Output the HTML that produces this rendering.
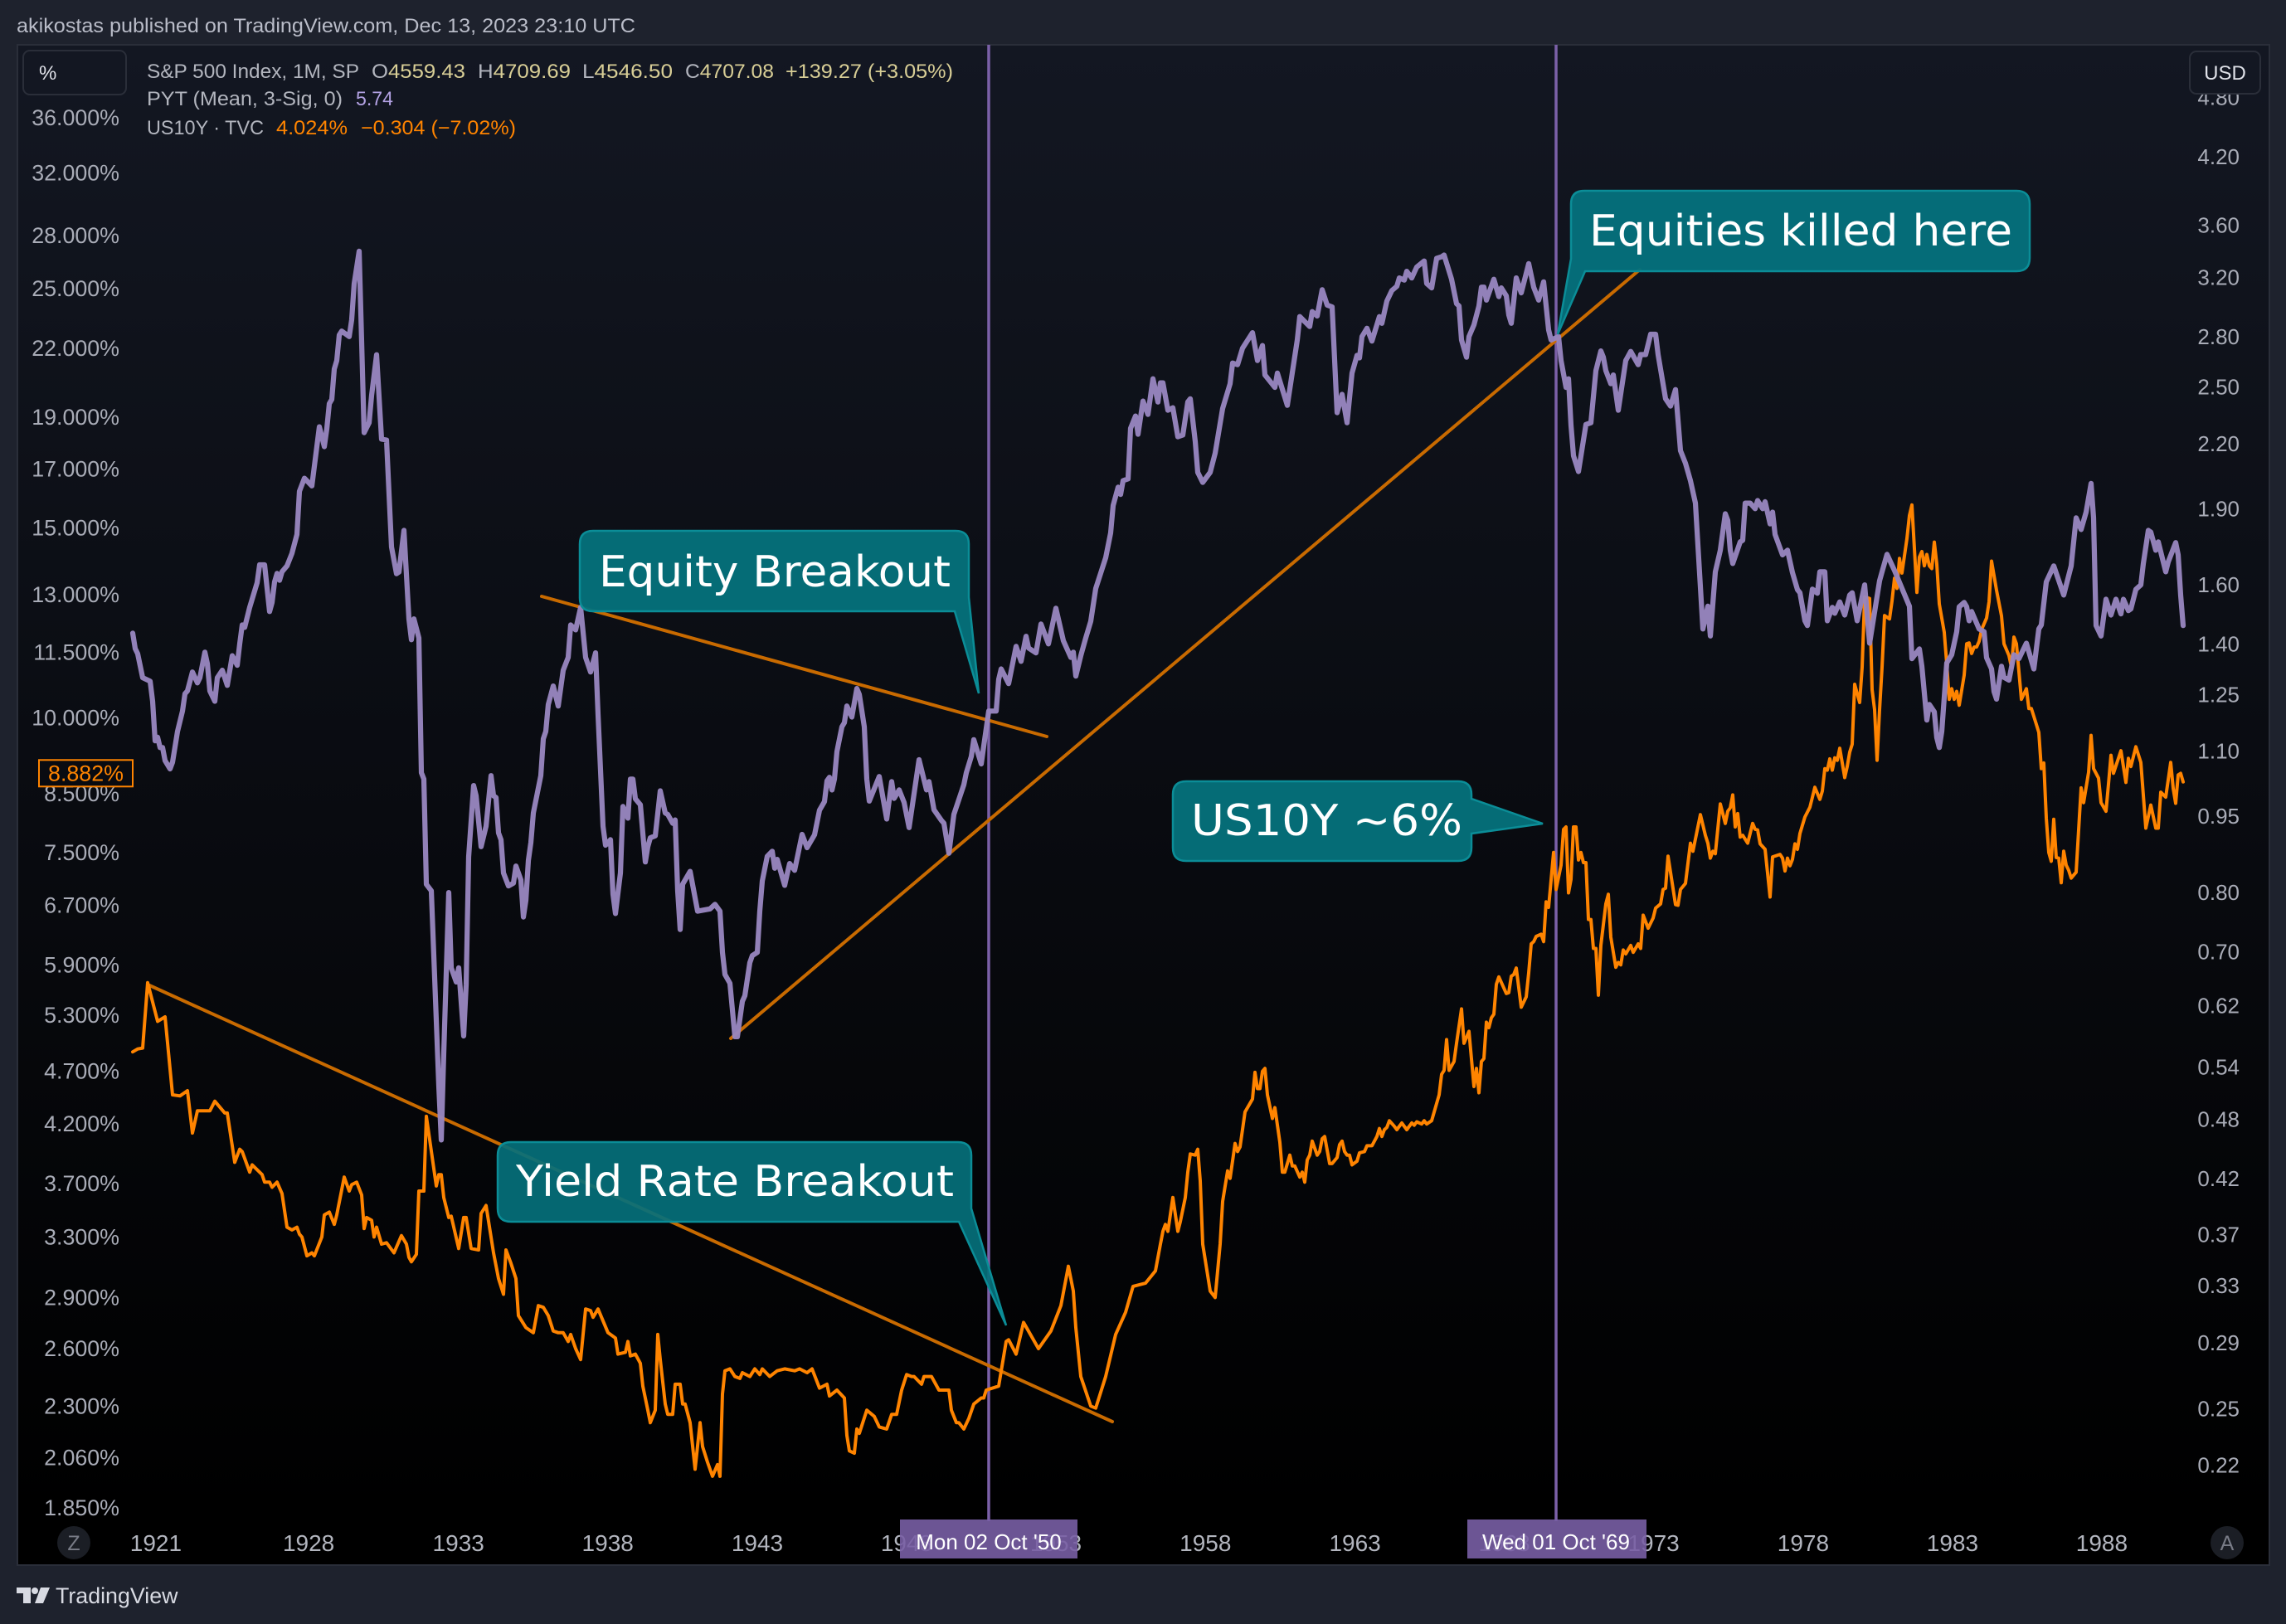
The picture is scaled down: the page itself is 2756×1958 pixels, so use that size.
<!DOCTYPE html>
<html lang="en">
<head>
<meta charset="utf-8">
<title>S&amp;P 500 PYT vs US10Y</title>
<style>
html,body{margin:0;padding:0;background:#1e222d;}
svg{display:block;font-family:"Liberation Sans",sans-serif;}
.callout-text{font-family:"DejaVu Sans","Liberation Sans",sans-serif;}
</style>
</head>
<body>
<svg id="chart" xmlns="http://www.w3.org/2000/svg" width="2756" height="1958" viewBox="0 0 2756 1958">
  <defs>
    <linearGradient id="panelBg" x1="0" y1="0" x2="0" y2="1">
      <stop offset="0" stop-color="#131722"/>
      <stop offset="0.97" stop-color="#000000"/>
    </linearGradient>
  </defs>
  <rect x="0" y="0" width="2756" height="1958" fill="#1e222d"/>
  <text x="20" y="39" font-size="24" fill="#b9bcc8" textLength="746" lengthAdjust="spacingAndGlyphs">akikostas published on TradingView.com, Dec 13, 2023 23:10 UTC</text>
  <rect x="21" y="54" width="2715" height="1833" fill="url(#panelBg)" stroke="#2a2e39" stroke-width="2"/>

  <g id="axisLeft"></g>
  <g id="axisRight"></g>
  <g id="axisTime"></g>

  <line x1="1192" y1="54" x2="1192" y2="1834" stroke="#7b60a8" stroke-width="3.5"/>
  <line x1="1876" y1="54" x2="1876" y2="1834" stroke="#7b60a8" stroke-width="3.5"/>

  <g stroke="#c86a00" stroke-width="4" stroke-linecap="round" fill="none">
    <line x1="653" y1="719" x2="1262" y2="888"/>
    <line x1="881" y1="1252" x2="1977" y2="325"/>
    <line x1="178" y1="1187" x2="1341" y2="1714"/>
  </g>

  <path id="orangeLine" fill="none" stroke="#ff8400" stroke-width="4" stroke-linejoin="round" stroke-linecap="round"/>
  <path id="purpleLine" fill="none" stroke="#9886bf" stroke-opacity="0.96" stroke-width="6.2" stroke-linejoin="round" stroke-linecap="round"/>

  <g>
    <path d="M715,640 H1152 Q1168,640 1168,656 V720 L1180,836 L1151,737 H715 Q699,737 699,721 V656 Q699,640 715,640 Z" fill="#05707b" fill-opacity="0.96" stroke="#0b8d97" stroke-width="2.5"/>
    <text class="callout-text" x="722" y="707" font-size="52" fill="#ffffff" textLength="424" lengthAdjust="spacingAndGlyphs">Equity Breakout</text>
  </g>
  <g>
    <path d="M616,1377 H1155 Q1171,1377 1171,1393 V1457 L1213,1598 L1156,1473 H616 Q600,1473 600,1457 V1393 Q600,1377 616,1377 Z" fill="#05707b" fill-opacity="0.92" stroke="#0b8d97" stroke-width="2.5"/>
    <text class="callout-text" x="622" y="1442" font-size="52" fill="#ffffff" textLength="528" lengthAdjust="spacingAndGlyphs">Yield Rate Breakout</text>
  </g>
  <g>
    <path d="M1430,942 H1758 Q1774,942 1774,958 V963 L1860,993 L1774,1005 V1022 Q1774,1038 1758,1038 H1430 Q1414,1038 1414,1022 V958 Q1414,942 1430,942 Z" fill="#05707b" fill-opacity="0.96" stroke="#0b8d97" stroke-width="2.5"/>
    <text class="callout-text" x="1436" y="1007" font-size="52" fill="#ffffff" textLength="327" lengthAdjust="spacingAndGlyphs">US10Y ~6%</text>
  </g>
  <g>
    <path d="M1910,230 H2431 Q2447,230 2447,246 V311 Q2447,327 2431,327 H1911 L1878,403 L1894,312 V246 Q1894,230 1910,230 Z" fill="#05707b" fill-opacity="0.97" stroke="#0b8d97" stroke-width="2.5"/>
    <text class="callout-text" x="1916" y="296" font-size="52" fill="#ffffff" textLength="510" lengthAdjust="spacingAndGlyphs">Equities killed here</text>
  </g>

  <g>
    <rect x="1085" y="1832" width="214" height="47" fill="#785ea4" fill-opacity="0.9"/>
    <text x="1192" y="1868" font-size="26" fill="#ffffff" text-anchor="middle">Mon 02 Oct '50</text>
  </g>
  <g>
    <rect x="1769" y="1832" width="216" height="47" fill="#785ea4" fill-opacity="0.9"/>
    <text x="1876" y="1868" font-size="26" fill="#ffffff" text-anchor="middle">Wed 01 Oct '69</text>
  </g>

  <g font-size="24" fill="#b2b5be">
    <text x="177" y="94" textLength="256" lengthAdjust="spacingAndGlyphs">S&amp;P 500 Index, 1M, SP</text>
    <text x="448" y="94" textLength="113" lengthAdjust="spacingAndGlyphs">O<tspan fill="#d8ce96">4559.43</tspan></text>
    <text x="576" y="94" textLength="112" lengthAdjust="spacingAndGlyphs">H<tspan fill="#d8ce96">4709.69</tspan></text>
    <text x="702" y="94" textLength="109" lengthAdjust="spacingAndGlyphs">L<tspan fill="#d8ce96">4546.50</tspan></text>
    <text x="826" y="94" textLength="107" lengthAdjust="spacingAndGlyphs">C<tspan fill="#d8ce96">4707.08</tspan></text>
    <text x="947" y="94" fill="#d8ce96" textLength="202" lengthAdjust="spacingAndGlyphs">+139.27 (+3.05%)</text>
    <text x="177" y="127" textLength="236" lengthAdjust="spacingAndGlyphs">PYT (Mean, 3-Sig, 0)</text>
    <text x="429" y="127" fill="#b3a2e4" textLength="45" lengthAdjust="spacingAndGlyphs">5.74</text>
    <text x="177" y="162" textLength="141" lengthAdjust="spacingAndGlyphs">US10Y · TVC</text>
    <text x="333" y="162" fill="#ff8400" textLength="86" lengthAdjust="spacingAndGlyphs">4.024%</text>
    <text x="435" y="162" fill="#ff8400" textLength="187" lengthAdjust="spacingAndGlyphs">−0.304 (−7.02%)</text>
  </g>

  <g>
    <rect x="28" y="61" width="124" height="53" rx="8" fill="#131722" stroke="#2a2e39" stroke-width="2"/>
    <text x="47" y="96" font-size="24" fill="#dfe1e8">%</text>
  </g>
  <g>
    <rect x="2640" y="62" width="85" height="51" rx="8" fill="#131722" stroke="#2a2e39" stroke-width="2"/>
    <text x="2682.5" y="96" font-size="24" fill="#dfe1e8" text-anchor="middle">USD</text>
  </g>

  <g>
    <circle cx="89" cy="1860" r="20" fill="#1b1e25"/>
    <text x="89" y="1869" font-size="25" fill="#787b86" text-anchor="middle">Z</text>
  </g>
  <g>
    <circle cx="2685" cy="1860" r="20" fill="#1b1e25"/>
    <text x="2685" y="1869" font-size="25" fill="#787b86" text-anchor="middle">A</text>
  </g>

  <g>
    <path fill="#d8dae2" d="M20,1914 H37 V1933 H28 V1921 H20 Z M49,1914 H60 L52,1933 H42 Z"/>
    <circle cx="42" cy="1918" r="4" fill="#d8dae2"/>
    <text x="67" y="1933" font-size="26.8" fill="#d8dae2">TradingView</text>
  </g>
</svg>

<script>
// ---- Chart data -------------------------------------------------------------
// Bars are monthly bar indices from the first bar of the series.
const leftTickValues = [36,32,28,25,22,19,17,15,13,11.5,10,8.5,7.5,6.7,5.9,5.3,4.7,4.2,3.7,3.3,2.9,2.6,2.3,2.06,1.85];
const leftTickLabels = ["36.000%","32.000%","28.000%","25.000%","22.000%","19.000%","17.000%","15.000%","13.000%","11.500%","10.000%","8.500%","7.500%","6.700%","5.900%","5.300%","4.700%","4.200%","3.700%","3.300%","2.900%","2.600%","2.300%","2.060%","1.850%"];
const rightTickValues = [4.8,4.2,3.6,3.2,2.8,2.5,2.2,1.9,1.6,1.4,1.25,1.1,0.95,0.8,0.7,0.62,0.54,0.48,0.42,0.37,0.33,0.29,0.25,0.22];
const rightTickLabels = ["4.80","4.20","3.60","3.20","2.80","2.50","2.20","1.90","1.60","1.40","1.25","1.10","0.95","0.80","0.70","0.62","0.54","0.48","0.42","0.37","0.33","0.29","0.25","0.22"];
const timeTickLabels = ["1921","1928","1933","1938","1943","1948","1953","1958","1963","1968","1973","1978","1983","1988"];
const timeTickBars = [9.3,70.7,130.9,190.9,251,311,371,431.1,491.2,551.2,611.2,671.3,731.3,791.3];
const lastPriceMarker = 8.882;

const us10yBars = [0,2,4,6,10,13,16,19,22,24,26,31,33,37,38,41,43,44,47,48,52,53,55,56,58,60,62,64,66,67,68,70,72,73,76,77,79,81,82,85,87,88,90,92,93,94,96,97,98,100,102,105,108,110,111,112,114,115,117,118,122,123,124,125,127,128,131,133,134,136,139,140,142,145,147,149,150,152,154,155,158,161,163,165,167,169,171,173,175,176,178,180,182,184,185,187,191,194,195,198,199,200,202,204,205,207,208,210,211,212,214,215,217,218,220,221,222,224,226,228,229,231,233,235,236,237,238,240,242,244,245,248,250,252,253,256,259,262,266,268,271,273,276,279,280,283,286,287,288,290,291,292,295,298,300,303,305,307,309,311,313,314,317,318,321,324,328,329,331,332,334,336,338,341,342,343,348,351,352,355,358,364,369,373,376,378,379,381,385,387,391,395,399,402,407,411,413,414,415,416,418,420,421,423,424,425,427,428,429,430,433,435,437,438,440,441,443,444,445,447,450,451,452,453,454,455,456,458,459,461,462,463,465,466,467,469,470,471,472,473,474,476,477,478,479,481,482,484,485,486,487,488,489,490,492,493,495,496,498,500,501,502,503,504,505,507,508,510,512,514,515,516,518,519,520,522,525,526,527,528,529,531,532,534,535,537,539,540,541,542,543,544,545,546,547,548,549,552,553,554,555,556,558,560,561,562,563,564,566,567,568,569,571,572,574,575,576,577,578,579,580,581,582,583,584,585,586,587,588,589,590,592,593,594,596,597,598,599,600,602,603,605,606,607,609,611,612,614,615,616,617,620,621,622,624,626,627,630,632,633,634,635,636,638,640,641,642,643,644,645,646,647,649,651,652,653,654,656,658,659,662,663,664,665,666,667,668,669,670,672,674,676,678,679,680,681,682,683,684,685,686,688,689,690,691,692,694,695,696,698,699,700,701,702,703,704,706,707,708,709,710,711,713,714,715,717,718,719,720,721,722,723,724,725,726,728,729,730,731,732,733,734,736,737,738,739,740,741,742,743,745,746,747,749,751,752,754,755,756,757,759,761,762,763,765,766,767,768,769,770,771,772,773,774,775,776,777,778,779,781,783,784,786,787,788,790,791,793,794,795,796,799,801,802,803,805,807,809,811,813,814,815,817,819,820,821,822,823,824];
const us10yYield = [4.90,4.93,4.94,5.68,5.23,5.28,4.47,4.46,4.51,4.12,4.32,4.32,4.41,4.30,4.30,3.87,3.98,3.96,3.79,3.85,3.77,3.71,3.71,3.67,3.71,3.62,3.37,3.35,3.37,3.32,3.30,3.17,3.19,3.17,3.30,3.46,3.48,3.39,3.46,3.75,3.64,3.69,3.71,3.61,3.36,3.44,3.42,3.30,3.37,3.25,3.26,3.19,3.31,3.25,3.16,3.13,3.18,3.64,3.64,4.27,3.68,3.77,3.77,3.59,3.44,3.45,3.22,3.44,3.44,3.22,3.21,3.47,3.53,3.19,3.02,2.92,3.21,3.12,3.02,2.79,2.72,2.69,2.85,2.84,2.79,2.70,2.69,2.69,2.64,2.68,2.60,2.54,2.83,2.82,2.78,2.83,2.69,2.66,2.57,2.58,2.64,2.56,2.57,2.52,2.40,2.28,2.22,2.28,2.68,2.54,2.31,2.26,2.26,2.41,2.41,2.31,2.31,2.22,2.01,2.22,2.11,2.04,1.98,2.03,1.98,2.36,2.48,2.49,2.45,2.44,2.47,2.45,2.49,2.46,2.49,2.45,2.48,2.49,2.48,2.49,2.47,2.49,2.39,2.41,2.35,2.38,2.34,2.16,2.09,2.08,2.19,2.17,2.28,2.25,2.20,2.19,2.26,2.26,2.38,2.46,2.45,2.45,2.41,2.45,2.45,2.38,2.38,2.28,2.22,2.22,2.19,2.24,2.31,2.34,2.34,2.38,2.40,2.64,2.65,2.57,2.75,2.60,2.70,2.85,3.10,2.94,2.72,2.45,2.30,2.29,2.45,2.68,2.81,2.97,2.99,3.07,3.25,3.34,3.39,3.34,3.59,3.34,3.41,3.59,3.79,3.94,3.93,3.98,3.72,3.25,2.94,2.90,3.25,3.56,3.80,3.74,4.03,3.96,4.00,4.31,4.43,4.69,4.53,4.53,4.70,4.73,4.47,4.25,4.35,4.04,3.79,3.79,3.93,3.84,3.84,3.75,3.79,3.71,3.89,3.93,4.05,3.93,3.96,4.07,4.09,3.86,3.86,3.91,4.02,4.05,3.96,3.93,3.93,3.85,3.88,3.95,3.96,4.01,4.01,4.09,4.16,4.09,4.15,4.17,4.23,4.18,4.15,4.21,4.15,4.21,4.19,4.22,4.20,4.23,4.20,4.23,4.47,4.67,4.71,5.03,4.71,4.80,4.99,5.37,4.99,5.12,4.55,4.73,4.49,4.80,4.83,5.22,5.16,5.27,5.31,5.66,5.75,5.55,5.56,5.76,5.78,5.86,5.39,5.51,5.80,6.17,6.20,6.27,6.30,6.20,6.75,6.67,7.50,6.93,7.30,7.88,7.92,6.88,7.08,7.92,7.92,7.38,7.50,7.34,7.34,6.50,6.50,6.11,6.11,5.53,6.15,6.72,6.86,6.26,5.87,5.93,5.90,6.09,6.04,6.15,6.06,6.17,6.11,6.56,6.38,6.52,6.66,6.72,6.93,6.95,7.44,6.71,6.70,6.93,7.02,7.65,7.52,8.13,7.78,7.65,7.41,7.52,7.48,8.32,7.98,8.19,8.25,8.48,7.92,8.15,7.75,7.78,7.65,7.98,7.88,7.87,7.64,7.55,6.82,7.43,7.47,7.41,7.21,7.41,7.29,7.39,7.64,7.55,7.81,8.09,8.26,8.62,8.40,8.55,8.97,8.94,9.16,8.94,9.18,9.13,9.37,8.80,9.01,9.29,9.45,10.74,10.33,11.14,12.94,12.90,10.62,10.17,9.13,10.17,11.14,12.44,12.35,12.83,13.47,13.18,14.05,13.62,14.66,15.40,15.75,13.07,14.09,14.26,13.83,14.17,13.83,13.75,14.55,13.88,12.75,12.0,11.22,10.40,10.64,10.40,10.58,10.27,10.95,11.71,11.73,11.47,11.63,11.63,11.77,12.07,12.37,12.81,13.97,13.13,12.43,11.71,11.42,11.14,11.88,11.71,10.40,10.64,10.20,10.20,9.86,9.69,8.97,9.08,8.07,7.50,7.36,8.05,7.42,7.41,7.03,7.52,7.30,7.22,7.10,7.19,8.61,8.34,8.90,9.63,8.97,8.79,8.34,8.19,8.68,9.23,8.88,9.32,8.71,9.17,9.01,9.40,9.09,7.90,8.30,7.90,7.90,8.53,8.44,9.09,8.60,8.33,8.85,8.88,8.72];

const pytBars = [0,1,2,4,7,8,9,10,11,12,13,15,16,18,20,21,22,24,26,27,29,30,31,33,34,36,38,40,42,43,44,45,47,50,51,53,55,56,57,58,59,60,62,64,66,67,69,72,75,77,78,79,80,81,82,83,84,87,88,89,91,93,95,96,98,100,102,104,106,107,109,111,112,113,115,116,117,118,120,123,124,125,127,128,130,131,133,134,135,137,138,140,142,144,145,146,147,148,149,151,153,154,156,157,158,159,160,161,164,165,166,167,169,171,173,175,176,178,180,182,184,186,187,189,190,192,193,194,196,197,199,200,201,202,204,206,207,208,210,212,214,215,217,218,219,220,221,224,227,232,234,236,237,238,240,242,243,245,246,248,249,251,252,253,255,257,258,259,262,263,264,266,269,271,274,276,278,279,280,281,282,283,285,286,287,289,291,292,294,295,296,300,303,305,306,308,310,312,316,319,320,322,325,326,328,330,334,335,337,338,341,342,344,347,348,349,352,355,357,359,360,363,365,368,371,374,377,378,379,381,383,385,387,391,393,394,396,397,398,400,401,403,404,406,408,410,412,413,414,416,418,420,422,424,425,427,428,430,433,435,438,441,442,444,446,450,452,454,455,459,460,464,468,469,473,474,476,478,480,482,484,486,488,490,492,493,494,496,498,501,502,504,506,508,509,511,512,514,516,519,520,522,524,526,527,530,532,533,534,536,537,539,541,542,543,544,547,549,550,552,553,554,556,558,561,563,565,567,569,570,573,574,576,577,578,579,581,584,586,588,590,591,592,594,595,597,600,602,605,606,608,610,612,613,616,618,620,622,624,626,628,631,633,634,636,638,640,641,642,643,646,647,648,650,652,653,655,656,658,659,660,663,665,667,669,670,672,673,675,677,678,680,681,683,684,686,688,690,691,693,696,698,702,703,705,708,714,715,718,719,721,722,724,725,726,727,729,731,733,734,736,737,738,739,742,744,745,747,748,749,751,752,754,756,758,761,764,766,767,769,772,776,779,781,783,785,787,788,789,791,793,795,797,799,800,802,803,805,807,808,810,811,813,814,817,818,821,822,823,824];
const pytValues = [1.435,1.386,1.370,1.298,1.288,1.231,1.126,1.135,1.109,1.109,1.077,1.057,1.073,1.150,1.204,1.252,1.260,1.315,1.283,1.298,1.375,1.340,1.260,1.231,1.298,1.320,1.276,1.364,1.335,1.401,1.462,1.454,1.521,1.608,1.674,1.674,1.507,1.538,1.611,1.642,1.617,1.648,1.670,1.718,1.793,1.976,2.035,2.000,2.285,2.185,2.275,2.407,2.430,2.603,2.653,2.810,2.835,2.800,2.909,3.155,3.394,2.255,2.306,2.452,2.688,2.222,2.218,1.743,1.641,1.647,1.809,1.482,1.414,1.482,1.420,1.048,1.033,0.815,0.803,0.518,0.458,0.557,0.800,0.675,0.654,0.675,0.579,0.650,0.867,1.018,0.995,0.887,0.929,1.041,0.995,0.991,0.915,0.901,0.836,0.812,0.817,0.849,0.823,0.757,0.786,0.860,0.895,0.957,1.041,1.131,1.150,1.222,1.274,1.218,1.320,1.359,1.462,1.446,1.521,1.359,1.315,1.373,1.195,0.929,0.890,0.901,0.797,0.763,0.836,0.971,0.946,1.033,1.033,0.988,0.975,0.857,0.887,0.905,0.909,1.006,0.957,0.954,0.935,0.942,0.803,0.736,0.815,0.839,0.767,0.771,0.779,0.767,0.699,0.665,0.652,0.578,0.578,0.626,0.634,0.683,0.694,0.699,0.767,0.821,0.868,0.878,0.845,0.862,0.813,0.834,0.854,0.841,0.912,0.885,0.911,0.963,0.982,1.029,1.037,1.008,1.033,1.099,1.162,1.173,1.218,1.188,1.267,1.250,1.162,1.033,0.983,1.039,0.944,1.027,0.989,1.008,0.980,0.926,1.079,1.008,1.027,0.964,0.941,0.935,0.874,0.954,1.020,1.048,1.087,1.129,1.069,1.113,1.204,1.204,1.293,1.324,1.281,1.393,1.347,1.425,1.388,1.373,1.465,1.401,1.518,1.411,1.359,1.375,1.303,1.364,1.420,1.474,1.587,1.701,1.799,1.914,1.994,1.962,2.024,2.032,2.277,2.341,2.247,2.421,2.350,2.546,2.416,2.523,2.523,2.372,2.385,2.234,2.243,2.416,2.434,2.210,2.062,2.016,2.062,2.153,2.381,2.518,2.638,2.628,2.728,2.825,2.653,2.744,2.568,2.497,2.579,2.398,2.779,2.929,2.864,2.962,2.933,3.112,3.006,2.994,2.359,2.458,2.306,2.579,2.684,2.669,2.800,2.853,2.772,2.929,2.885,3.034,3.106,3.136,3.196,3.180,3.244,3.196,3.275,3.320,3.156,3.125,3.340,3.352,3.365,3.186,3.016,3.000,2.779,2.673,2.800,2.875,3.000,3.130,3.130,3.040,3.186,3.064,3.125,3.070,2.940,2.885,3.196,3.090,3.300,3.130,3.040,3.168,2.843,2.779,2.800,2.653,2.497,2.546,2.292,2.141,2.066,2.297,2.306,2.593,2.711,2.673,2.593,2.518,2.568,2.372,2.653,2.708,2.628,2.689,2.689,2.815,2.815,2.689,2.434,2.394,2.485,2.165,2.105,2.024,1.924,1.449,1.525,1.426,1.648,1.730,1.878,1.850,1.730,1.679,1.763,1.769,1.924,1.924,1.900,1.935,1.900,1.930,1.836,1.885,1.793,1.712,1.730,1.645,1.583,1.572,1.476,1.460,1.585,1.570,1.648,1.648,1.476,1.521,1.501,1.540,1.495,1.564,1.572,1.476,1.600,1.403,1.615,1.648,1.714,1.653,1.525,1.355,1.385,1.332,1.180,1.222,1.202,1.134,1.109,1.150,1.342,1.367,1.440,1.523,1.538,1.523,1.476,1.507,1.449,1.440,1.358,1.324,1.258,1.237,1.332,1.299,1.291,1.367,1.355,1.403,1.324,1.449,1.462,1.611,1.670,1.564,1.670,1.861,1.813,1.885,2.011,1.861,1.460,1.426,1.549,1.495,1.549,1.499,1.549,1.510,1.516,1.584,1.600,1.679,1.809,1.802,1.730,1.763,1.648,1.685,1.760,1.712,1.564,1.460];

// ---- Axis functions ---------------------------------------------------------
function xOfBar(bar){ return 160 + 3 * bar; }
function yLeft(v){ return 142 + 564.7 * Math.log(36 / v); }
function yRight(v){ return 188.9 + 535 * Math.log(4.2 / v); }

const NS = 'http://www.w3.org/2000/svg';
function linePath(bars, vals, yFn){
  let d = '';
  for (let i = 0; i < bars.length; i++){
    d += (i ? 'L' : 'M') + xOfBar(bars[i]).toFixed(1) + ',' + yFn(vals[i]).toFixed(1);
  }
  return d;
}

document.getElementById('orangeLine').setAttribute('d', linePath(us10yBars, us10yYield, yLeft));
document.getElementById('purpleLine').setAttribute('d', linePath(pytBars, pytValues, yRight));

const axisLeft = document.getElementById('axisLeft');
leftTickValues.forEach(function(v, i){
  const t = document.createElementNS(NS, 'text');
  
  
  t.setAttribute('x', 144);
  t.setAttribute('y', yLeft(v) + 9);
  t.setAttribute('text-anchor', 'end');
  t.setAttribute('font-size', '26.8');
  t.setAttribute('fill', '#a9acb7');
  t.textContent = leftTickLabels[i];
  axisLeft.appendChild(t);
});

const markerY = yLeft(lastPriceMarker);
const markerBox = document.createElementNS(NS, 'rect');


markerBox.setAttribute('x', 47);
markerBox.setAttribute('y', markerY - 16);
markerBox.setAttribute('width', 113);
markerBox.setAttribute('height', 32);
markerBox.setAttribute('fill', '#090b11');
markerBox.setAttribute('stroke', '#ff8400');
markerBox.setAttribute('stroke-width', '2');
axisLeft.appendChild(markerBox);
const markerText = document.createElementNS(NS, 'text');


markerText.setAttribute('x', 103.5);
markerText.setAttribute('y', markerY + 9);
markerText.setAttribute('text-anchor', 'middle');
markerText.setAttribute('font-size', '26.8');
markerText.setAttribute('fill', '#ff8400');
markerText.textContent = lastPriceMarker.toFixed(3) + '%';
axisLeft.appendChild(markerText);

const axisRight = document.getElementById('axisRight');
rightTickValues.forEach(function(v, i){
  const t = document.createElementNS(NS, 'text');
  
  
  t.setAttribute('x', 2700);
  t.setAttribute('y', yRight(v) + 9);
  t.setAttribute('text-anchor', 'end');
  t.setAttribute('font-size', '26');
  t.setAttribute('fill', '#a9acb7');
  t.textContent = rightTickLabels[i];
  axisRight.appendChild(t);
});

const axisTime = document.getElementById('axisTime');
timeTickLabels.forEach(function(label, i){
  const t = document.createElementNS(NS, 'text');
  
  
  t.setAttribute('x', xOfBar(timeTickBars[i]));
  t.setAttribute('y', 1870);
  t.setAttribute('text-anchor', 'middle');
  t.setAttribute('font-size', '28');
  t.setAttribute('fill', '#b2b5be');
  t.textContent = label;
  axisTime.appendChild(t);
});
</script>
</body>
</html>
